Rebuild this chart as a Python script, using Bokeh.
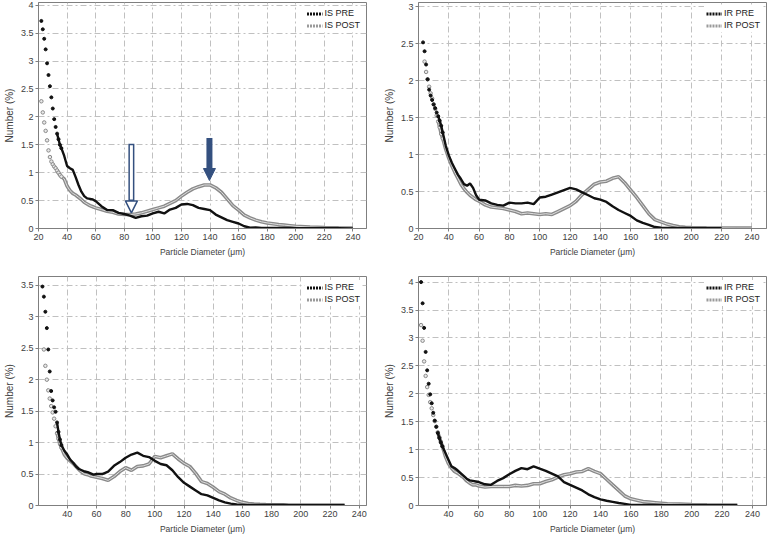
import math
from bokeh.plotting import figure
from bokeh.layouts import gridplot
from bokeh.models import Range1d, FixedTicker, NumeralTickFormatter, Legend, LegendItem, Arrow, NormalHead
from bokeh.embed import file_html
from bokeh.resources import INLINE

nan = float("nan")

# particle diameter grid (um)
diameter = [22, 23, 24, 25, 26, 27, 28, 29, 30, 31, 32, 33, 34, 35, 36,
            38, 40, 42, 44, 46, 48, 50, 52, 54, 56, 58, 60,
            64, 68, 72, 76, 80, 84, 88, 92, 96, 100, 104, 108, 112, 116, 120, 124, 128,
            132, 136, 140, 144, 148, 152, 156, 160, 164, 168, 172, 176, 180, 184, 188,
            192, 196, 200, 210, 220, 230, 240]

# top-left panel: IS PRE / IS POST
is_pre_a = [3.72, 3.57, 3.40, 3.21, 2.96, 2.75, 2.55, 2.35, 2.15, 1.96, 1.82, 1.70, 1.60, 1.50, 1.44,
            1.30, 1.12, 1.08, 1.05, 0.92, 0.78, 0.66, 0.58, 0.54, 0.53, 0.52, 0.49,
            0.40, 0.33, 0.33, 0.28, 0.26, 0.23, 0.19, 0.22, 0.23, 0.27, 0.30, 0.27, 0.34, 0.37, 0.43, 0.44, 0.42,
            0.37, 0.35, 0.33, 0.25, 0.20, 0.15, 0.12, 0.09, 0.04, 0.015, 0.02, 0.012, 0.01, 0.01, 0.01,
            0.008, 0.008, 0.007, 0.006, 0.005, 0.004, 0.003]
is_post_a = [2.28, 2.08, 1.90, 1.75, 1.58, 1.40, 1.28, 1.20, 1.15, 1.11, 1.08, 1.04, 1.00, 0.96, 0.93,
             0.89, 0.76, 0.68, 0.63, 0.60, 0.56, 0.52, 0.47, 0.44, 0.41, 0.39, 0.37,
             0.34, 0.31, 0.29, 0.26, 0.25, 0.25, 0.26, 0.28, 0.31, 0.34, 0.37, 0.40, 0.45, 0.50, 0.58, 0.65, 0.71,
             0.75, 0.78, 0.78, 0.73, 0.65, 0.53, 0.41, 0.33, 0.24, 0.19, 0.15, 0.12, 0.10, 0.085, 0.07,
             0.06, 0.05, 0.04, 0.025, 0.016, 0.012, 0.01]

# top-right panel: IR PRE / IR POST
ir_pre_a = [nan, 2.52, 2.40, 2.22, 2.02, 1.88, 1.80, 1.74, 1.68, 1.63, 1.57, 1.52, 1.46, 1.39, 1.30,
            1.12, 0.99, 0.89, 0.81, 0.73, 0.67, 0.60, 0.58, 0.61, 0.55, 0.45, 0.39,
            0.38, 0.34, 0.32, 0.31, 0.35, 0.34, 0.34, 0.35, 0.33, 0.42, 0.43, 0.46, 0.49, 0.52, 0.55, 0.53, 0.49,
            0.45, 0.41, 0.39, 0.36, 0.30, 0.25, 0.21, 0.17, 0.11, 0.075, 0.05, 0.02, 0.012, 0.008, 0.007,
            0.006, 0.006, 0.005, 0.005, 0.004, nan, nan]
ir_post_a = [nan, nan, 2.26, 2.12, 2.02, 1.92, 1.83, 1.76, 1.68, 1.62, 1.53, 1.45, 1.37, 1.28, 1.22,
             1.07, 0.95, 0.85, 0.76, 0.68, 0.60, 0.54, 0.49, 0.45, 0.42, 0.39, 0.37,
             0.32, 0.29, 0.28, 0.27, 0.25, 0.23, 0.20, 0.21, 0.20, 0.19, 0.20, 0.19, 0.23, 0.27, 0.31, 0.37, 0.46,
             0.53, 0.60, 0.63, 0.64, 0.68, 0.70, 0.62, 0.52, 0.42, 0.31, 0.20, 0.12, 0.09, 0.06, 0.04,
             0.022, 0.016, 0.013, 0.009, 0.006, 0.005, 0.005]

# bottom-left panel: IS PRE / IS POST
is_pre_b = [nan, 3.48, 3.32, 3.08, 2.82, 2.48, 2.13, 1.82, 1.67, 1.56, 1.49, 1.32, 1.17, 1.05, 0.96,
            0.87, 0.81, 0.73, 0.68, 0.62, 0.58, 0.56, 0.54, 0.53, 0.51, 0.49, 0.50,
            0.50, 0.54, 0.63, 0.69, 0.76, 0.81, 0.84, 0.79, 0.77, 0.71, 0.66, 0.64, 0.56, 0.45, 0.36, 0.30, 0.24,
            0.18, 0.16, 0.12, 0.08, 0.05, 0.03, 0.015, 0.01, 0.01, 0.009, 0.008, 0.008, 0.008, 0.007, 0.007,
            0.006, 0.006, 0.006, 0.005, 0.005, 0.004, nan]
is_post_b = [nan, nan, 2.48, 2.22, 2.00, 1.83, 1.70, 1.58, 1.48, 1.38, 1.26, 1.15, 1.06, 0.98, 0.92,
             0.81, 0.75, 0.71, 0.67, 0.62, 0.57, 0.53, 0.50, 0.49, 0.47, 0.46, 0.45,
             0.43, 0.40, 0.46, 0.54, 0.60, 0.56, 0.62, 0.63, 0.66, 0.78, 0.76, 0.79, 0.82, 0.74, 0.67, 0.62, 0.51,
             0.38, 0.35, 0.29, 0.22, 0.18, 0.12, 0.08, 0.05, 0.03, 0.022, 0.018, 0.015, 0.013, 0.011, 0.01,
             0.009, 0.008, 0.008, 0.007, 0.006, 0.006, nan]

# bottom-right panel: IR PRE / IR POST
ir_pre_b = [4.00, 3.62, 3.18, 2.75, 2.42, 2.18, 1.99, 1.83, 1.66, 1.52, 1.41, 1.30, 1.21, 1.13, 1.06,
            0.94, 0.82, 0.70, 0.67, 0.63, 0.58, 0.53, 0.48, 0.45, 0.44, 0.43, 0.42,
            0.38, 0.37, 0.44, 0.49, 0.56, 0.62, 0.67, 0.65, 0.70, 0.66, 0.62, 0.57, 0.52, 0.42, 0.37, 0.32, 0.27,
            0.20, 0.15, 0.11, 0.085, 0.065, 0.045, 0.03, 0.012, 0.01, 0.009, 0.009, 0.008, 0.008, 0.007, 0.007,
            0.006, 0.006, 0.006, 0.005, 0.005, 0.004, nan]
ir_post_b = [3.23, 2.95, 2.58, 2.32, 2.12, 1.98, 1.85, 1.74, 1.62, 1.51, 1.41, 1.31, 1.22, 1.14, 1.06,
             0.88, 0.75, 0.67, 0.61, 0.58, 0.54, 0.50, 0.44, 0.40, 0.37, 0.37, 0.35,
             0.33, 0.34, 0.34, 0.34, 0.34, 0.36, 0.35, 0.36, 0.39, 0.39, 0.43, 0.46, 0.51, 0.55, 0.57, 0.60, 0.61,
             0.66, 0.61, 0.57, 0.47, 0.37, 0.27, 0.17, 0.12, 0.095, 0.07, 0.06, 0.05, 0.04, 0.03, 0.027,
             0.024, 0.02, 0.015, 0.012, 0.01, 0.01, nan]

x_ticks = [20, 40, 60, 80, 100, 120, 140, 160, 180, 200, 220, 240]
x_label = "Particle Diameter (\u03bcm)"
y_label = "Number (%)"

# arrows in the top-left panel (x, y_start, y_end)
open_arrow = (85.0, 1.52, 0.28)
solid_arrow = (139.6, 1.62, 0.86)
arrow_color = "#34507f"

FONT = "Liberation Sans"
STEEP_END = 36  # below this diameter the points are drawn as separate dots


def panel(pre, post, names, xr, yr, ymax_tick, w, h, borders):
    p = figure(width=w, height=h, output_backend="svg", toolbar_location=None,
               x_range=Range1d(*xr), y_range=Range1d(*yr),
               min_border_left=borders[0], min_border_right=borders[1],
               min_border_top=borders[2], min_border_bottom=borders[3])
    p.outline_line_color = "#7f7f7f"
    p.background_fill_color = "white"
    p.border_fill_color = "white"
    yt = [i * 0.5 for i in range(int(ymax_tick * 2) + 1)]
    p.xaxis.ticker = FixedTicker(ticks=x_ticks)
    p.yaxis.ticker = FixedTicker(ticks=yt)
    p.yaxis.formatter = NumeralTickFormatter(format="0.[0]")
    for ax in (p.xaxis[0], p.yaxis[0]):
        ax.axis_line_color = "#7f7f7f"
        ax.major_tick_line_color = "#7f7f7f"
        ax.major_tick_in = 0
        ax.major_tick_out = 3
        ax.minor_tick_line_color = None
        ax.major_label_text_font = FONT
        ax.major_label_text_font_size = "9px"
        ax.major_label_text_color = "#404040"
        ax.major_label_standoff = 2
    p.xaxis.axis_label = x_label
    p.xaxis.axis_label_text_font = FONT
    p.xaxis.axis_label_text_font_size = "8.5px"
    p.xaxis.axis_label_text_font_style = "normal"
    p.xaxis.axis_label_text_color = "#404040"
    p.xaxis.axis_label_standoff = 4
    p.yaxis.axis_label = y_label
    p.yaxis.axis_label_text_font = FONT
    p.yaxis.axis_label_text_font_size = "10px"
    p.yaxis.axis_label_text_font_style = "normal"
    p.yaxis.axis_label_text_color = "#404040"
    p.yaxis.axis_label_standoff = 3
    for g in (p.xgrid[0], p.ygrid[0]):
        g.grid_line_color = "#c0c0c0"
        g.grid_line_dash = "6 3 2 3"
        g.grid_line_width = 1

    n_steep = sum(1 for d in diameter if d <= STEEP_END)
    n_line = sum(1 for d in diameter if d < 33)

    # POST series: hollow grey circles
    p.line(diameter[n_line:], post[n_line:], line_color="#8a8a8a", line_width=3.6)
    p.line(diameter[n_line:], post[n_line:], line_color="#dedede", line_width=1.0)
    p.scatter(diameter[:n_steep], post[:n_steep], size=3.5, marker="circle",
              line_color="#8a8a8a", fill_color="#e8e8e8", line_width=1)
    # PRE series: filled black dots
    p.line(diameter[n_line:], pre[n_line:], line_color="#111111", line_width=2.4)
    p.scatter(diameter[:n_steep], pre[:n_steep], size=3.0, marker="circle",
              line_color="#111111", fill_color="#111111")

    # legend samples
    r_pre = p.line([nan], [nan], line_color="#111111", line_width=3, line_dash="2 1")
    r_post = p.line([nan], [nan], line_color="#9a9a9a", line_width=3, line_dash="2 1")
    leg = Legend(items=[LegendItem(label=names[0], renderers=[r_pre]),
                        LegendItem(label=names[1], renderers=[r_post])],
                 location="top_right")
    leg.label_text_font = FONT
    leg.label_text_font_size = "9px"
    leg.label_text_color = "#222222"
    leg.glyph_width = 16
    leg.glyph_height = 9
    leg.label_height = 9
    leg.label_standoff = 2
    leg.spacing = 2
    leg.padding = 2
    leg.margin = 4
    leg.border_line_alpha = 0
    leg.background_fill_color = "white"
    leg.background_fill_alpha = 1
    p.add_layout(leg)
    return p


p1 = panel(is_pre_a, is_post_a, ("IS PRE", "IS POST"), (20, 249.5), (0, 4.05), 4,
           380, 268, (28, 14, 2, 40))
p2 = panel(ir_pre_a, ir_post_a, ("IR PRE", "IR POST"), (20, 249.6), (0, 3.06), 3,
           388, 268, (28, 2, 2, 40))
p3 = panel(is_pre_b, is_post_b, ("IS PRE", "IS POST"), (20.3, 245), (0, 3.64), 3.5,
           380, 268, (28, 14, 8, 30))
p4 = panel(ir_pre_b, ir_post_b, ("IR PRE", "IR POST"), (20.3, 249.2), (0, 4.1), 4,
           388, 268, (28, 2, 8, 30))

# annotation arrows on the top-left panel
ax_, ys, ye = open_arrow
p1.add_layout(Arrow(x_start=ax_, y_start=ys, x_end=ax_, y_end=ye,
                    line_color=arrow_color, line_width=6,
                    end=NormalHead(size=12, fill_color="white", line_color=arrow_color, line_width=1.5)))
p1.add_layout(Arrow(x_start=ax_, y_start=ys - 0.03, x_end=ax_, y_end=ye + 0.24,
                    line_color="white", line_width=3, end=None))
bx, bys, bye = solid_arrow
p1.add_layout(Arrow(x_start=bx, y_start=bys, x_end=bx, y_end=bye,
                    line_color=arrow_color, line_width=6,
                    end=NormalHead(size=12, fill_color=arrow_color, line_color=arrow_color, line_width=1)))

grid = gridplot([[p1, p2], [p3, p4]], toolbar_location=None)
open("out.html", "w").write(file_html(grid, INLINE))
